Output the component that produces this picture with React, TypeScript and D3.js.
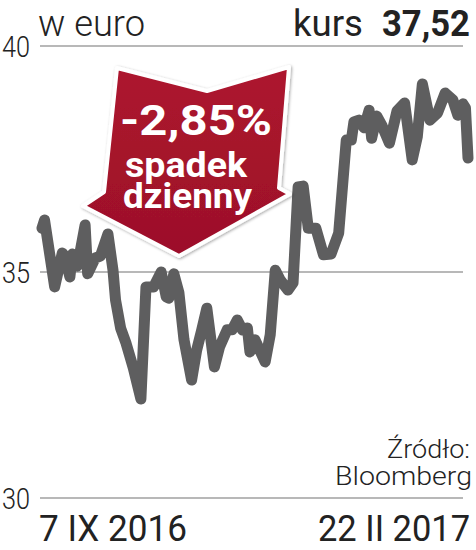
import React from "react";
import * as d3 from "d3";

// ---- data ----
const startDate = new Date(2016, 8, 7);
const endDate = new Date(2017, 1, 22);
const dayOffsets = [
  0, 1, 5, 8, 9, 11, 12, 14, 17, 18, 21, 23, 26, 28, 29, 31, 33, 36, 39, 41,
  44, 47, 49, 50, 52, 54, 56, 59, 61, 63, 65, 68, 70, 73, 75, 77, 79, 81, 82, 84,
  88, 90, 92, 94, 97, 99, 101, 103, 105, 108, 111, 114, 117, 120, 122, 123, 125, 127, 129, 130,
  132, 134, 137, 140, 143, 146, 148, 150, 153, 156, 159, 162, 164, 166, 167, 168,
];
const prices = [
  35.97, 36.15, 34.67, 35.42, 35.35, 34.89, 35.4, 35.13, 36.04, 34.96,
  35.31, 35.35, 35.84, 35.04, 34.38, 33.76, 33.45, 32.88, 32.19, 34.67,
  34.67, 35.0, 34.45, 34.42, 34.96, 34.54, 33.5, 32.61, 33.27, 33.72,
  34.2, 32.9, 33.34, 33.72, 33.72, 33.94, 33.72, 33.76, 33.23, 33.5,
  33.01, 33.61, 35.04, 34.82, 34.6, 34.76, 36.88, 36.9, 35.97, 35.97,
  35.38, 35.4, 35.86, 37.92, 37.92, 38.32, 38.36, 38.19, 38.58, 37.96,
  38.45, 38.25, 37.85, 38.56, 38.74, 37.48, 37.99, 39.16, 38.36, 38.52,
  38.96, 38.81, 38.47, 38.72, 38.63, 37.52,
];
const yTicks = [30, 35, 40];
const unitLabel = "w euro";
const priceLabel = "kurs";
const lastPrice = "37,52";
const changeLabel = "-2,85%";
const changeText = ["spadek", "dzienny"];
const dateLabels = ["7 IX 2016", "22 II 2017"];
const sourceLines = ["Źródło:", "Bloomberg"];

const series = dayOffsets.map((d, i) => ({
  date: d3.timeDay.offset(startDate, d),
  value: prices[i],
}));

const W = 476;
const H = 550;
const FONT = "Roboto, 'Noto Sans', sans-serif";

export default function App() {
  const x = d3.scaleTime().domain([startDate, endDate]).range([42, 468]);
  const y = d3.scaleLinear().domain([30, 40]).range([498, 46]);
  const line = d3
    .line<{ date: Date; value: number }>()
    .x((d) => x(d.date))
    .y((d) => y(d.value))
    .curve(d3.curveLinear);

  const arrowPts: [number, number][] = [
    [117, 68],
    [207, 91],
    [289, 67],
    [279, 188],
    [290, 194],
    [179, 256],
    [83, 206],
    [104, 192],
  ];
  const arrowPath = "M" + arrowPts.map((p) => p.join(",")).join("L") + "Z";

  return (
    <svg
      width={W}
      height={H}
      style={{ position: "absolute", left: 0, top: 0, background: "#fff" }}
      fontFamily={FONT}
    >
      <defs>
        <filter id="sh" x="-20%" y="-20%" width="140%" height="140%">
          <feDropShadow dx="1" dy="1" stdDeviation="1.5" floodColor="#000" floodOpacity="0.35" />
        </filter>
        <linearGradient id="rg" x1="0" y1="0" x2="0" y2="1">
          <stop offset="0" stopColor="#ad152e" />
          <stop offset="1" stopColor="#9c1029" />
        </linearGradient>
      </defs>

      {/* gridlines */}
      {yTicks.map((t) => (
        <g key={t}>
          <line x1={40} x2={463} y1={y(t)} y2={y(t)} stroke="#b8b8b8" strokeWidth={2} />
          <text
            x={30}
            y={y(t)}
            dy="0.36em"
            textAnchor="end"
            fontSize={30}
            fontWeight={300}
            fill="#222"
            textLength={28}
            lengthAdjust="spacingAndGlyphs"
          >
            {t}
          </text>
        </g>
      ))}

      {/* header */}
      <text x={38} y={36} fontSize={36} fontWeight={300} fill="#222" textLength={107} lengthAdjust="spacingAndGlyphs">
        {unitLabel}
      </text>
      <text x={293} y={36} fontSize={36} fontWeight={400} fill="#222" textLength={70} lengthAdjust="spacingAndGlyphs">
        {priceLabel}
      </text>
      <text x={382} y={36} fontSize={36} fontWeight={700} fill="#222" textLength={88} lengthAdjust="spacingAndGlyphs">
        {lastPrice}
      </text>

      {/* price line */}
      <path
        d={line(series) || ""}
        fill="none"
        stroke="#5e5e5f"
        strokeWidth={11}
        strokeLinejoin="round"
        strokeLinecap="round"
      />

      {/* arrow */}
      <path d={arrowPath} fill="url(#rg)" stroke="#fff" strokeWidth={4} strokeLinejoin="round" filter="url(#sh)" />
      <text x={120} y={135} fontSize={42} fontWeight={700} fill="#fff" textLength={152} lengthAdjust="spacingAndGlyphs">
        {changeLabel}
      </text>
      <text x={125} y={177} fontSize={35} fontWeight={700} fill="#fff" textLength={122} lengthAdjust="spacingAndGlyphs">
        {changeText[0]}
      </text>
      <text x={123} y={208} fontSize={35} fontWeight={700} fill="#fff" textLength={129} lengthAdjust="spacingAndGlyphs">
        {changeText[1]}
      </text>

      {/* source */}
      <text x={470} y={458} textAnchor="end" fontSize={26} fontWeight={300} fill="#222" textLength={83} lengthAdjust="spacingAndGlyphs">
        {sourceLines[0]}
      </text>
      <text x={472} y={485} textAnchor="end" fontSize={26} fontWeight={300} fill="#222" textLength={137} lengthAdjust="spacingAndGlyphs">
        {sourceLines[1]}
      </text>

      {/* dates */}
      <text x={39} y={541} fontSize={36} fontWeight={400} fill="#222" textLength={148} lengthAdjust="spacingAndGlyphs">
        {dateLabels[0]}
      </text>
      <text x={470} y={541} textAnchor="end" fontSize={36} fontWeight={400} fill="#222" textLength={152} lengthAdjust="spacingAndGlyphs">
        {dateLabels[1]}
      </text>
    </svg>
  );
}
